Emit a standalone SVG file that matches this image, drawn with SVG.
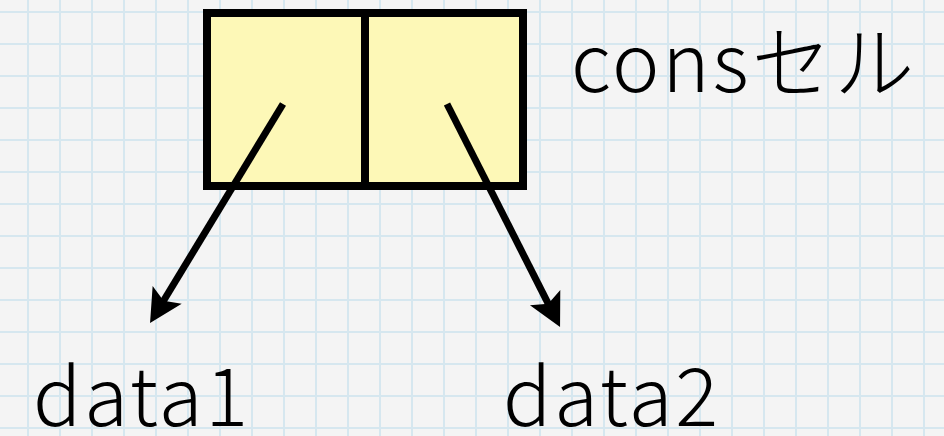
<svg xmlns="http://www.w3.org/2000/svg" width="944" height="436" viewBox="0 0 944 436">
  <defs>
    <pattern id="grid" x="12" y="-4" width="32" height="32" patternUnits="userSpaceOnUse">
      <path d="M16,0 V32 M0,16 H32" stroke="#d6e7ef" stroke-width="2" fill="none"/>
    </pattern>
    <marker id="head" markerUnits="userSpaceOnUse" orient="auto" refX="0" refY="0" markerWidth="60" markerHeight="40" overflow="visible">
      <path d="M24,0 L-9,-17 L-2,0 L-9,17 Z" fill="#000"/>
    </marker>
    <style>
      .cell { fill: #fdf8b7; stroke: #000; stroke-width: 8; }
      .div { stroke: #000; stroke-width: 8; }
      .conn { stroke: #000; stroke-width: 7; fill: none; marker-end: url(#head); }
      .lbl { font-family: "Noto Sans CJK JP", "Liberation Sans", sans-serif; font-size: 80px; font-weight: 300; letter-spacing: 2.8px; fill: #000; }
    </style>
  </defs>
  <rect x="0" y="0" width="944" height="436" fill="#f4f4f4"/>
  <rect x="0" y="0" width="944" height="436" fill="url(#grid)"/>

  <g id="cons-cell">
    <rect class="cell" x="207" y="13" width="316" height="173"/>
    <line class="div" x1="365" y1="13" x2="365" y2="186"/>
  </g>
  <g id="cons-label">
    <text class="lbl" x="571" y="92">consセル</text>
  </g>
  <g id="data1">
    <text class="lbl" x="33" y="426">data1</text>
  </g>
  <g id="data2">
    <text class="lbl" x="503" y="426">data2</text>
  </g>

  <g id="connectors">
    <line class="conn" x1="283" y1="104" x2="162.5" y2="302.5"/>
    <line class="conn" x1="447" y1="104" x2="549.2" y2="305.6"/>
  </g>
</svg>
